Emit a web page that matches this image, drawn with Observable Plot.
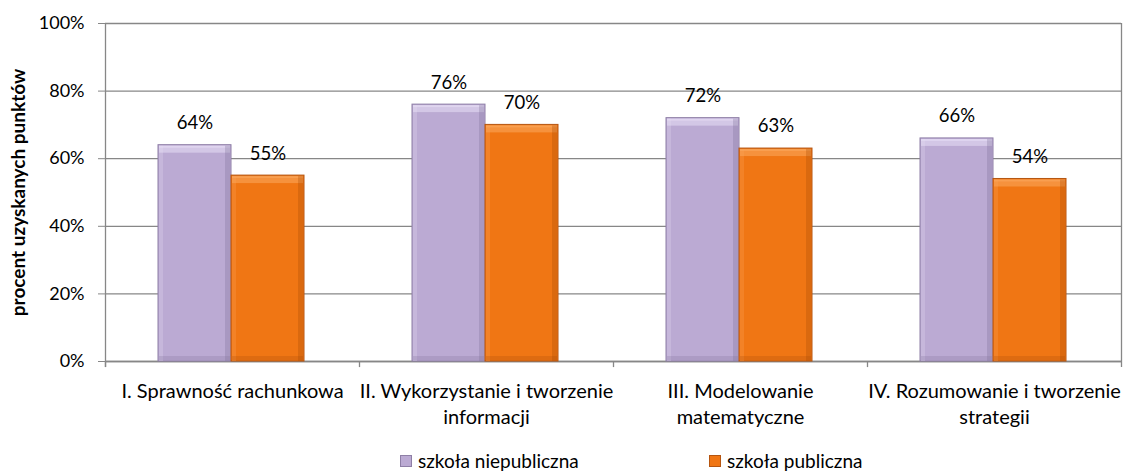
<!DOCTYPE html>
<html><head><meta charset="utf-8">
<script src="https://cdn.jsdelivr.net/npm/d3@7"></script>
<script src="https://cdn.jsdelivr.net/npm/@observablehq/plot@0.6"></script>
<style>
body{margin:0;background:#fff;font-family:Lato,"Open Sans",sans-serif;}
#chart svg{display:block;}
#legend{position:relative;height:24px;font-size:19px;color:#000;}
.item{position:absolute;top:1px;display:flex;align-items:center;gap:6px;}
.sw{width:12px;height:12px;box-sizing:border-box;}
</style></head>
<body><div id="chart"></div><div id="legend"></div>
<script>
const categories = ["I. Sprawność rachunkowa","II. Wykorzystanie i tworzenie\ninformacji","III. Modelowanie\nmatematyczne","IV. Rozumowanie i tworzenie\nstrategii"];
const seriesNames = ["szkoła niepubliczna","szkoła publiczna"];
const niepubliczna = [64,76,72,66];
const publiczna = [55,70,63,54];
const yTicks = [0,20,40,60,80,100];
const colors = ["#BBAAD3","#F07614"];
const strokes = ["#8E7FA6","#B55510"];
const light = ["#E8DEF5","#FBA95E"];
const dark = ["#7E6F98","#A84C08"];

const rowsA = categories.map((c,i)=>({cat:c, value:niepubliczna[i]}));
const rowsB = categories.map((c,i)=>({cat:c, value:publiczna[i]}));

const W = 1125, ML = 105, MR = 4;
const half = (W-ML-MR)/categories.length/2;
const fmt = d => d + "%";
const font = "Lato, 'Open Sans', sans-serif";
const gray = "#878787";

// bar geometry within each category band (left inset, right inset)
const geo = [[53,128],[126,55]];
const rows = [rowsA, rowsB];

function barMarks(k){
  const [l,r] = geo[k];
  return [
    Plot.barY(rows[k], {x:"cat", y:"value", insetLeft:l, insetRight:r, fill:colors[k], stroke:strokes[k], strokeWidth:1}),
    // top bevel
    Plot.barY(rows[k], {x:"cat", y1:"value", y2:"value", insetLeft:l+1, insetRight:r+1, insetTop:1, insetBottom:-8, fill:light[k], fillOpacity:0.55}),
    Plot.barY(rows[k], {x:"cat", y1:"value", y2:"value", insetLeft:l+1, insetRight:r+1, insetTop:1, insetBottom:-3, fill:light[k], fillOpacity:0.6}),
    // right bevel
    Plot.barY(rows[k], {x:"cat", y1:0, y2:"value", insetLeft:(2*half - r - 6), insetRight:r+1, insetTop:1, fill:dark[k], fillOpacity:0.3}),
    // left bevel
    Plot.barY(rows[k], {x:"cat", y1:0, y2:"value", insetLeft:l+1, insetRight:(2*half - l - 5), insetTop:1, fill:light[k], fillOpacity:0.25}),
    // bottom bevel
    Plot.barY(rows[k], {x:"cat", y1:0, y2:0, insetLeft:l+1, insetRight:r+1, insetTop:-5, insetBottom:1, fill:dark[k], fillOpacity:0.25}),
    Plot.text(rows[k], {x:"cat", y:"value", text: d=>fmt(d.value), dx: -half + l + (2*half-l-r)/2, dy: -22, fontSize:18.5})
  ];
}

const plot = Plot.plot({
  width: W, height: 448,
  marginLeft: ML, marginRight: MR, marginTop: 23, marginBottom: 87,
  style: {fontFamily: font, fontSize: "18px", color:"#000", background:"#fff"},
  x: {domain: categories, padding: 0, axis: null},
  y: {domain: [0,100], axis: null},
  marks: [
    Plot.gridY(yTicks, {stroke:gray, strokeOpacity:1, strokeWidth:1.3}),
    Plot.axisY(yTicks, {tickFormat: fmt, tickSize: 7, tickPadding: 14, stroke:gray, fontSize:18, label:null}),
    Plot.ruleX(categories, {x: d=>d, dx: -half, y1: -1.8, y2: 100, stroke:gray, strokeWidth:1.3, filter: (d,i)=>i===0}),
    Plot.ruleX(categories, {x: d=>d, dx: -half, y1: -1.8, y2: 0, stroke:gray, strokeWidth:1.3}),
    Plot.ruleX(categories.slice(-1), {x: d=>d, dx: half, y1: -1.8, y2: 100, stroke:gray, strokeWidth:1.3}),
    Plot.ruleY([0], {stroke:gray, strokeWidth:1.3}),
    Plot.axisX(categories, {tickSize: 0, tickPadding: 18, fontSize: 20, lineHeight: 1.3, label: null}),
    ...barMarks(0),
    ...barMarks(1),
    Plot.text(["procent uzyskanych punktów"], {frameAnchor:"left", dx: -87, rotate:-90, textAnchor:"middle", fontWeight:"bold", fontSize:19, text: d=>d})
  ]
});
document.getElementById("chart").appendChild(plot);

const leg = document.getElementById("legend");
const xs = [400, 709];
seriesNames.forEach((n,i)=>{
  const it = document.createElement("div");
  it.className = "item"; it.style.left = xs[i] + "px";
  const sw = document.createElement("div");
  sw.className = "sw"; sw.style.background = colors[i]; sw.style.border = "1px solid " + strokes[i];
  const t = document.createElement("span"); t.textContent = n;
  it.appendChild(sw); it.appendChild(t); leg.appendChild(it);
});
</script>
</body></html>
